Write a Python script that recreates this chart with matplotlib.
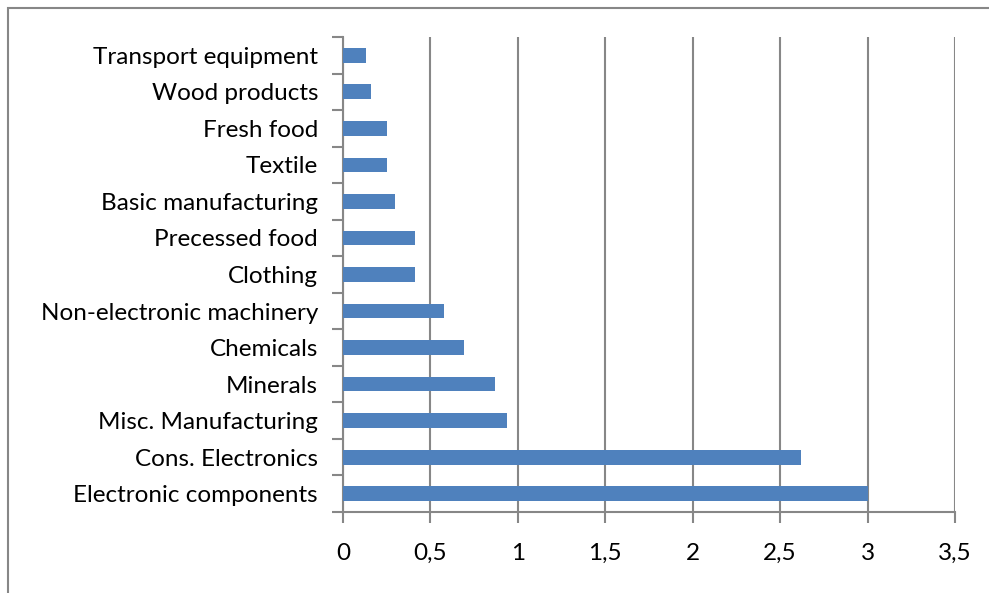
import matplotlib.pyplot as plt
from matplotlib.patches import Rectangle
from matplotlib.ticker import FuncFormatter

categories = ["Electronic components", "Cons. Electronics", "Misc. Manufacturing",
              "Minerals", "Chemicals", "Non-electronic machinery", "Clothing",
              "Precessed food", "Basic manufacturing", "Textile", "Fresh food",
              "Wood products", "Transport equipment"]
values = [3.0, 2.62, 0.94, 0.87, 0.69, 0.58, 0.41, 0.41, 0.30, 0.25, 0.25, 0.16, 0.13]

plt.rcParams['font.family'] = ['Lato', 'DejaVu Sans']

fig = plt.figure(figsize=(9.89, 5.93), dpi=100)
ax = fig.add_axes([343 / 989, 1 - 512 / 593, (955 - 343) / 989, (512 - 37) / 593])

grid_col = "#878787"
ax.barh(range(len(categories)), values, height=0.4, color="#4F81BD", zorder=3)

ax.set_xlim(0, 3.5)
ax.set_ylim(-0.5, len(categories) - 0.5)
ax.set_xticks([0, 0.5, 1, 1.5, 2, 2.5, 3, 3.5])
ax.xaxis.set_major_formatter(FuncFormatter(lambda v, p: ("%g" % v).replace(".", ",")))
ax.set_yticks(range(len(categories)))
ax.set_yticklabels(categories)
ax.set_yticks([i - 0.5 for i in range(len(categories) + 1)], minor=True)

ax.tick_params(axis="y", which="major", length=0, pad=18, labelsize=17.5)
ax.tick_params(axis="y", which="minor", length=8, width=1.5, color=grid_col, direction="out")
ax.tick_params(axis="x", length=8, width=1.5, color=grid_col, direction="out",
               pad=14, labelsize=17.5)

ax.grid(axis="x", color=grid_col, linewidth=1.5, zorder=0)
for s in ["top", "right"]:
    ax.spines[s].set_visible(False)
for s in ["left", "bottom"]:
    ax.spines[s].set_color(grid_col)
    ax.spines[s].set_linewidth(1.5)

# outer chart frame
fig.patches.append(Rectangle((8 / 989, -0.1), 1.2, 1 - 8 / 593 + 0.1,
                             transform=fig.transFigure, fill=False,
                             edgecolor=grid_col, linewidth=1.5))

fig.savefig("out.png", dpi=100)
